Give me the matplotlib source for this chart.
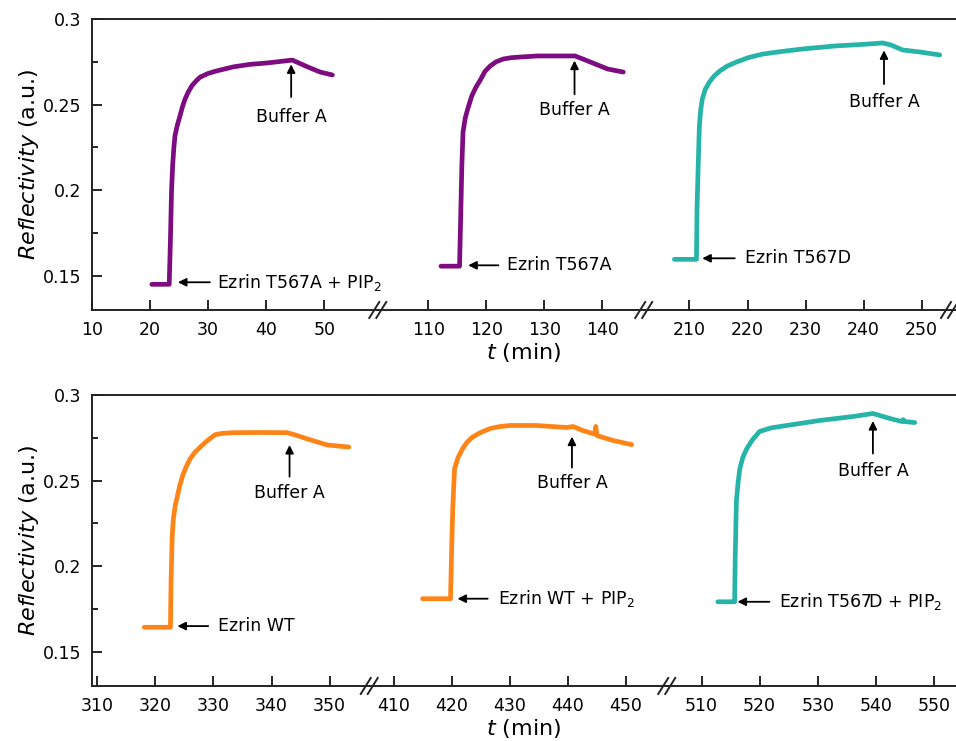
import matplotlib
matplotlib.use("Agg")
import matplotlib.pyplot as plt
from matplotlib.lines import Line2D
from matplotlib.ticker import MultipleLocator, FuncFormatter

plt.rcParams['font.family'] = 'DejaVu Sans'
plt.rcParams['mathtext.fontset'] = 'dejavusans'

PURPLE = '#7d0c80'
TEAL = '#27b4a8'
ORANGE = '#ff8418'

# ---- data: (t in min, reflectivity) ----
t567a_pip2_t = [20.3, 22.0, 23.3, 23.5, 23.7, 23.9, 24.1, 24.3, 24.7, 25.2, 25.6, 26.0, 26.6, 27.2,
                27.9, 28.6, 30.0, 31.5, 34.3, 37.2, 40.1, 44.5, 45.5, 47.0, 49.3, 51.4]
t567a_pip2_r = [0.145, 0.145, 0.145, 0.170, 0.200, 0.215, 0.225, 0.232, 0.238, 0.244, 0.249, 0.253, 0.2575, 0.261,
                0.2637, 0.266, 0.2682, 0.2697, 0.272, 0.2735, 0.2743, 0.276, 0.2745, 0.2722, 0.269, 0.2673]

t567a_t = [112.2, 114.0, 115.4, 115.6, 115.8, 116.0, 116.4, 116.9, 117.5, 118.2, 119.0, 119.8, 120.7,
           121.7, 122.9, 124.3, 125.9, 128.8, 131.6, 135.3, 136.5, 137.9, 140.9, 143.6]
t567a_r = [0.1556, 0.1556, 0.1556, 0.185, 0.215, 0.234, 0.2425, 0.2485, 0.255, 0.260, 0.2645, 0.2695, 0.2726,
           0.275, 0.2766, 0.2774, 0.2778, 0.2784, 0.2784, 0.2784, 0.2768, 0.2749, 0.2708, 0.269]

t567d_t = [207.4, 209.5, 211.2, 211.3, 211.5, 211.7, 211.9, 212.2, 212.7, 213.4, 214.2, 215.2, 216.5,
           218.1, 220.2, 222.6, 225.8, 229.5, 235.3, 240.0, 243.3, 244.7, 246.7, 249.7, 253.1]
t567d_r = [0.1596, 0.1596, 0.1596, 0.190, 0.214, 0.2374, 0.246, 0.2532, 0.2588, 0.263, 0.2665, 0.2696, 0.2725,
           0.2749, 0.2775, 0.2795, 0.281, 0.2825, 0.2843, 0.2852, 0.286, 0.2848, 0.2819, 0.2807, 0.279]

wt_t = [318.1, 320.5, 322.6, 322.7, 322.9, 323.1, 323.4, 323.8, 324.2, 324.7, 325.3, 326.0, 326.8,
        327.8, 329.0, 330.3, 331.5, 333.5, 338.0, 342.7, 344.5, 346.2, 349.6, 353.3]
wt_r = [0.1643, 0.1643, 0.1643, 0.190, 0.2175, 0.2275, 0.235, 0.241, 0.247, 0.2529, 0.258, 0.2628, 0.2665,
        0.2698, 0.2735, 0.2768, 0.2776, 0.278, 0.2781, 0.278, 0.2762, 0.2743, 0.2708, 0.2696]

wt_pip2_t = [415.0, 417.5, 419.8, 420.0, 420.2, 420.5, 421.1, 421.9, 422.6, 423.5, 424.8, 426.6,
             428.2, 430.0, 434.6, 439.8, 440.9, 442.6, 444.6, 444.8, 445.0, 447.8, 451.0]
wt_pip2_r = [0.181, 0.181, 0.181, 0.210, 0.235, 0.257, 0.2635, 0.2687, 0.2722, 0.2752, 0.2778, 0.2804,
             0.2815, 0.2822, 0.2822, 0.281, 0.2816, 0.2792, 0.2772, 0.2816, 0.2763, 0.2734, 0.271]

t567d_pip2_t = [512.8, 514.5, 515.7, 515.8, 516.0, 516.3, 516.6, 517.1, 517.8, 518.8, 520.0, 522.0,
                524.7, 530.3, 536.0, 539.5, 542.4, 544.5, 544.7, 544.9, 546.7]
t567d_pip2_r = [0.1792, 0.1792, 0.1792, 0.205, 0.2377, 0.249, 0.257, 0.2635, 0.2687, 0.274, 0.2787, 0.2808,
                0.2822, 0.2851, 0.2874, 0.2892, 0.2863, 0.2845, 0.2856, 0.2845, 0.2839]

top_curves = [(t567a_pip2_t, t567a_pip2_r, PURPLE), (t567a_t, t567a_r, PURPLE), (t567d_t, t567d_r, TEAL)]
bot_curves = [(wt_t, wt_r, ORANGE), (wt_pip2_t, wt_pip2_r, ORANGE), (t567d_pip2_t, t567d_pip2_r, TEAL)]

top_limits = [(10, 59.3), (101.4, 147.2), (202.2, 255.9)]
bot_limits = [(309.1, 356.9), (405.9, 457.1), (504.1, 553.8)]

# buffer arrows: x, head y, tail y, text y
top_buffer = [(44.3, 0.2735, 0.2544, 0.2427), (135.2, 0.2757, 0.256, 0.2468), (243.5, 0.2817, 0.262, 0.2514)]
bot_buffer = [(343.1, 0.2708, 0.2523, 0.2430), (440.7, 0.2757, 0.2576, 0.2488), (539.5, 0.2848, 0.2658, 0.2558)]

# injection arrows: head x, tail x, y, text x, label
top_inject = [(24.8, 30.3, 0.1462, 31.6, 'Ezrin T567A + PIP$_2$'),
              (116.9, 122.1, 0.1561, 123.6, 'Ezrin T567A'),
              (212.2, 217.8, 0.1602, 219.5, 'Ezrin T567D')]
bot_inject = [(323.8, 329.1, 0.1650, 330.7, 'Ezrin WT'),
              (421.0, 426.2, 0.1810, 427.9, 'Ezrin WT + PIP$_2$'),
              (516.2, 521.7, 0.1792, 523.3, 'Ezrin T567D + PIP$_2$')]

W, H = 956, 741
fig = plt.figure(figsize=(W / 100, H / 100), dpi=100)


def draw_row(top_px, bottom_px, limits, curves, buffers, injects, right_break):
    left_px, right_px = 92, 956
    spans = [b - a for a, b in limits]
    scale = (right_px - left_px) / sum(spans)
    x = left_px
    axes = []
    for i, ((a, b), (tt, rr, col)) in enumerate(zip(limits, curves)):
        w = (b - a) * scale
        ax = fig.add_axes([x / W, 1 - bottom_px / H, w / W, (bottom_px - top_px) / H])
        x += w
        ax.plot(tt, rr, color=col, lw=3.4, solid_capstyle='round', solid_joinstyle='round')
        ax.set_xlim(a, b)
        ax.set_ylim(0.13, 0.3)
        ax.xaxis.set_major_locator(MultipleLocator(10))
        ax.yaxis.set_major_locator(MultipleLocator(0.05))
        ax.yaxis.set_minor_locator(MultipleLocator(0.025))
        ax.yaxis.set_major_formatter(FuncFormatter(lambda v, p: '%g' % round(v, 3)))
        ax.tick_params(axis='both', which='major', direction='in', length=7, width=1.2,
                       labelsize=12.5, pad=8, top=False, right=False)
        ax.tick_params(axis='y', which='minor', direction='in', length=4, width=1.2)
        for s in ['top', 'bottom', 'left', 'right']:
            ax.spines[s].set_linewidth(1.4)
            ax.spines[s].set_color('#222222')
        ax.spines['right'].set_visible(False)
        if i > 0:
            ax.spines['left'].set_visible(False)
            ax.tick_params(axis='y', which='both', left=False, labelleft=False)
        ax.patch.set_alpha(0)

        xb, yh, yt, ytext = buffers[i]
        ax.annotate('', xy=(xb, yh), xytext=(xb, yt),
                    arrowprops=dict(arrowstyle='-|>', color='black', lw=1.3, mutation_scale=12,
                                    shrinkA=0, shrinkB=0))
        ax.text(xb, ytext, 'Buffer A', ha='center', va='center', fontsize=12.5)

        hx, tx, yy, textx, label = injects[i]
        ax.annotate('', xy=(hx, yy), xytext=(tx, yy),
                    arrowprops=dict(arrowstyle='-|>', color='black', lw=1.3, mutation_scale=12,
                                    shrinkA=0, shrinkB=0))
        ax.text(textx, yy, label, ha='left', va='center', fontsize=12.5, clip_on=False)
        axes.append(ax)

    axes[0].set_ylabel(r'$\mathit{Reflectivity}$ (a.u.)', fontsize=16, labelpad=1)

    # break marks on the bottom spine
    breaks = [axes[0].get_position().x1 * W, axes[1].get_position().x1 * W]
    if right_break:
        breaks.append(950)
    for bx in breaks:
        for dx in (-4, 3):
            xs = [(bx + dx - 5) / W, (bx + dx + 5) / W]
            ys = [1 - (bottom_px + 8) / H, 1 - (bottom_px - 8) / H]
            fig.add_artist(Line2D(xs, ys, color='#222222', lw=1.4))
    fig.text(524 / W, 1 - (bottom_px + 42) / H, r'$t$ (min)', ha='center', va='center', fontsize=16)


draw_row(19, 310, top_limits, top_curves, top_buffer, top_inject, True)
draw_row(395, 686, bot_limits, bot_curves, bot_buffer, bot_inject, False)

fig.savefig('out.png', dpi=100)
